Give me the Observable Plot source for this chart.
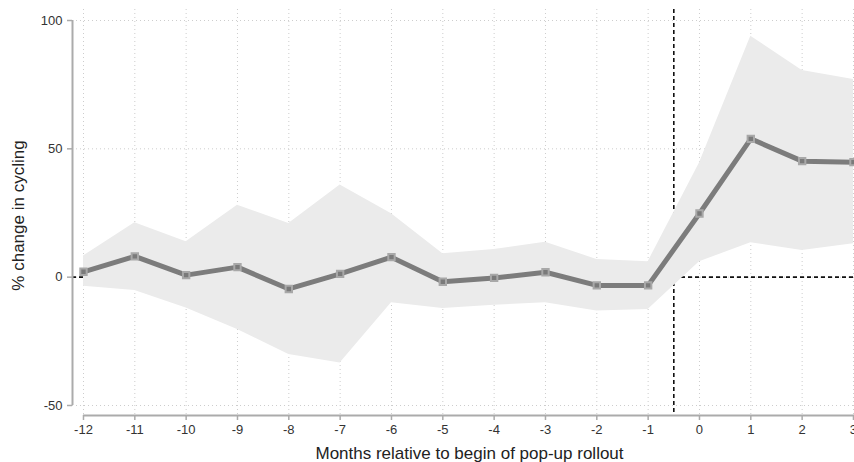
<!DOCTYPE html>
<html>
<head>
<meta charset="utf-8">
<script src="https://cdn.jsdelivr.net/npm/d3@7"></script>
<script src="https://cdn.jsdelivr.net/npm/@observablehq/plot@0.6"></script>
<style>
  html, body { margin: 0; padding: 0; background: #fff; }
  #chart { width: 854px; height: 462px; overflow: hidden; }
</style>
</head>
<body>
<div id="chart"></div>
<script>
const months   = [-12, -11, -10, -9, -8, -7, -6, -5, -4, -3, -2, -1, 0, 1, 2, 3];
const estimate = [2.1, 8.1, 0.8, 3.9, -4.6, 1.3, 7.8, -1.8, -0.3, 1.9, -3.2, -3.2, 24.8, 53.9, 45.2, 44.8];
const upper    = [8.2, 21.2, 13.8, 28.0, 20.9, 35.9, 24.7, 9.1, 10.8, 13.6, 6.9, 6.0, 44.5, 93.9, 80.5, 77.0];
const lower    = [-3.5, -5.2, -12.0, -20.4, -30.1, -33.4, -10.0, -12.2, -10.9, -10.0, -13.2, -12.6, 6.0, 13.4, 10.4, 13.0];
const yTicks   = [-50, 0, 50, 100];
const xTicks   = months;
const rolloutLine = [-0.5];
const zeroLine = [0];
const xDomain = [-12.214, 3.02];
const yDomain = [-53.9, 104.29];
const xTitle = "Months relative to begin of pop-up rollout";
const yTitle = "% change in cycling";

const data = months.map((m, i) => ({month: m, est: estimate[i], lo: lower[i], hi: upper[i]}));
const font = "'Liberation Sans', Arial, Helvetica, sans-serif";
const axisGray = "#ababab";

const plot = Plot.plot({
  width: 854,
  height: 462,
  marginLeft: 72,
  marginRight: 0,
  marginTop: 9,
  marginBottom: 47,
  style: {fontFamily: font, fontSize: "13px", color: "#333", background: "#fff", overflow: "visible"},
  x: {domain: xDomain},
  y: {domain: yDomain},
  marks: [
    Plot.gridX(xTicks, {stroke: "#cdcdcd", strokeOpacity: 1, strokeDasharray: "1,3", strokeWidth: 1}),
    Plot.gridY(yTicks, {stroke: "#cdcdcd", strokeOpacity: 1, strokeDasharray: "1,3", strokeWidth: 1}),
    Plot.ruleY(zeroLine, {stroke: "#111", strokeWidth: 1.6, strokeDasharray: "4,3"}),
    Plot.ruleX(rolloutLine, {stroke: "#111", strokeWidth: 1.6, strokeDasharray: "4,3"}),
    Plot.areaY(data, {x: "month", y1: "lo", y2: "hi", fill: "#ebebeb"}),
    Plot.line(data, {x: "month", y: "est", stroke: "#7c7c7c", strokeWidth: 5, strokeLinejoin: "round"}),
    Plot.dot(data, {x: "month", y: "est", symbol: "square", r: 3.6, fill: "#7a7a7a", stroke: "#a8a8a8", strokeWidth: 2}),
    // axis lines
    Plot.ruleX([xDomain[0]], {y1: d3.min(yTicks), y2: d3.max(yTicks), stroke: axisGray, strokeWidth: 2}),
    Plot.ruleY([yDomain[0]], {x1: d3.min(xTicks), x2: xDomain[1], stroke: axisGray, strokeWidth: 2}),
    Plot.axisY(yTicks, {tickSize: 5, tickPadding: 5, stroke: axisGray, strokeWidth: 1.5, fill: "#333", fontSize: 13, tickFormat: d => String(d), label: null}),
    Plot.axisX(xTicks, {tickSize: 5, tickPadding: 4, stroke: axisGray, strokeWidth: 1.5, fill: "#333", fontSize: 13, tickFormat: d => String(d), label: null}),
    Plot.text([xTitle], {frameAnchor: "bottom", lineAnchor: "middle", textAnchor: "middle", dy: 38.5, dx: 6, fontSize: 17, fill: "#222"}),
    Plot.text([yTitle], {frameAnchor: "left", lineAnchor: "middle", textAnchor: "middle", rotate: -90, dx: -54, dy: 3, fontSize: 17, fill: "#222"})
  ]
});
document.getElementById("chart").appendChild(plot);
</script>
</body>
</html>
